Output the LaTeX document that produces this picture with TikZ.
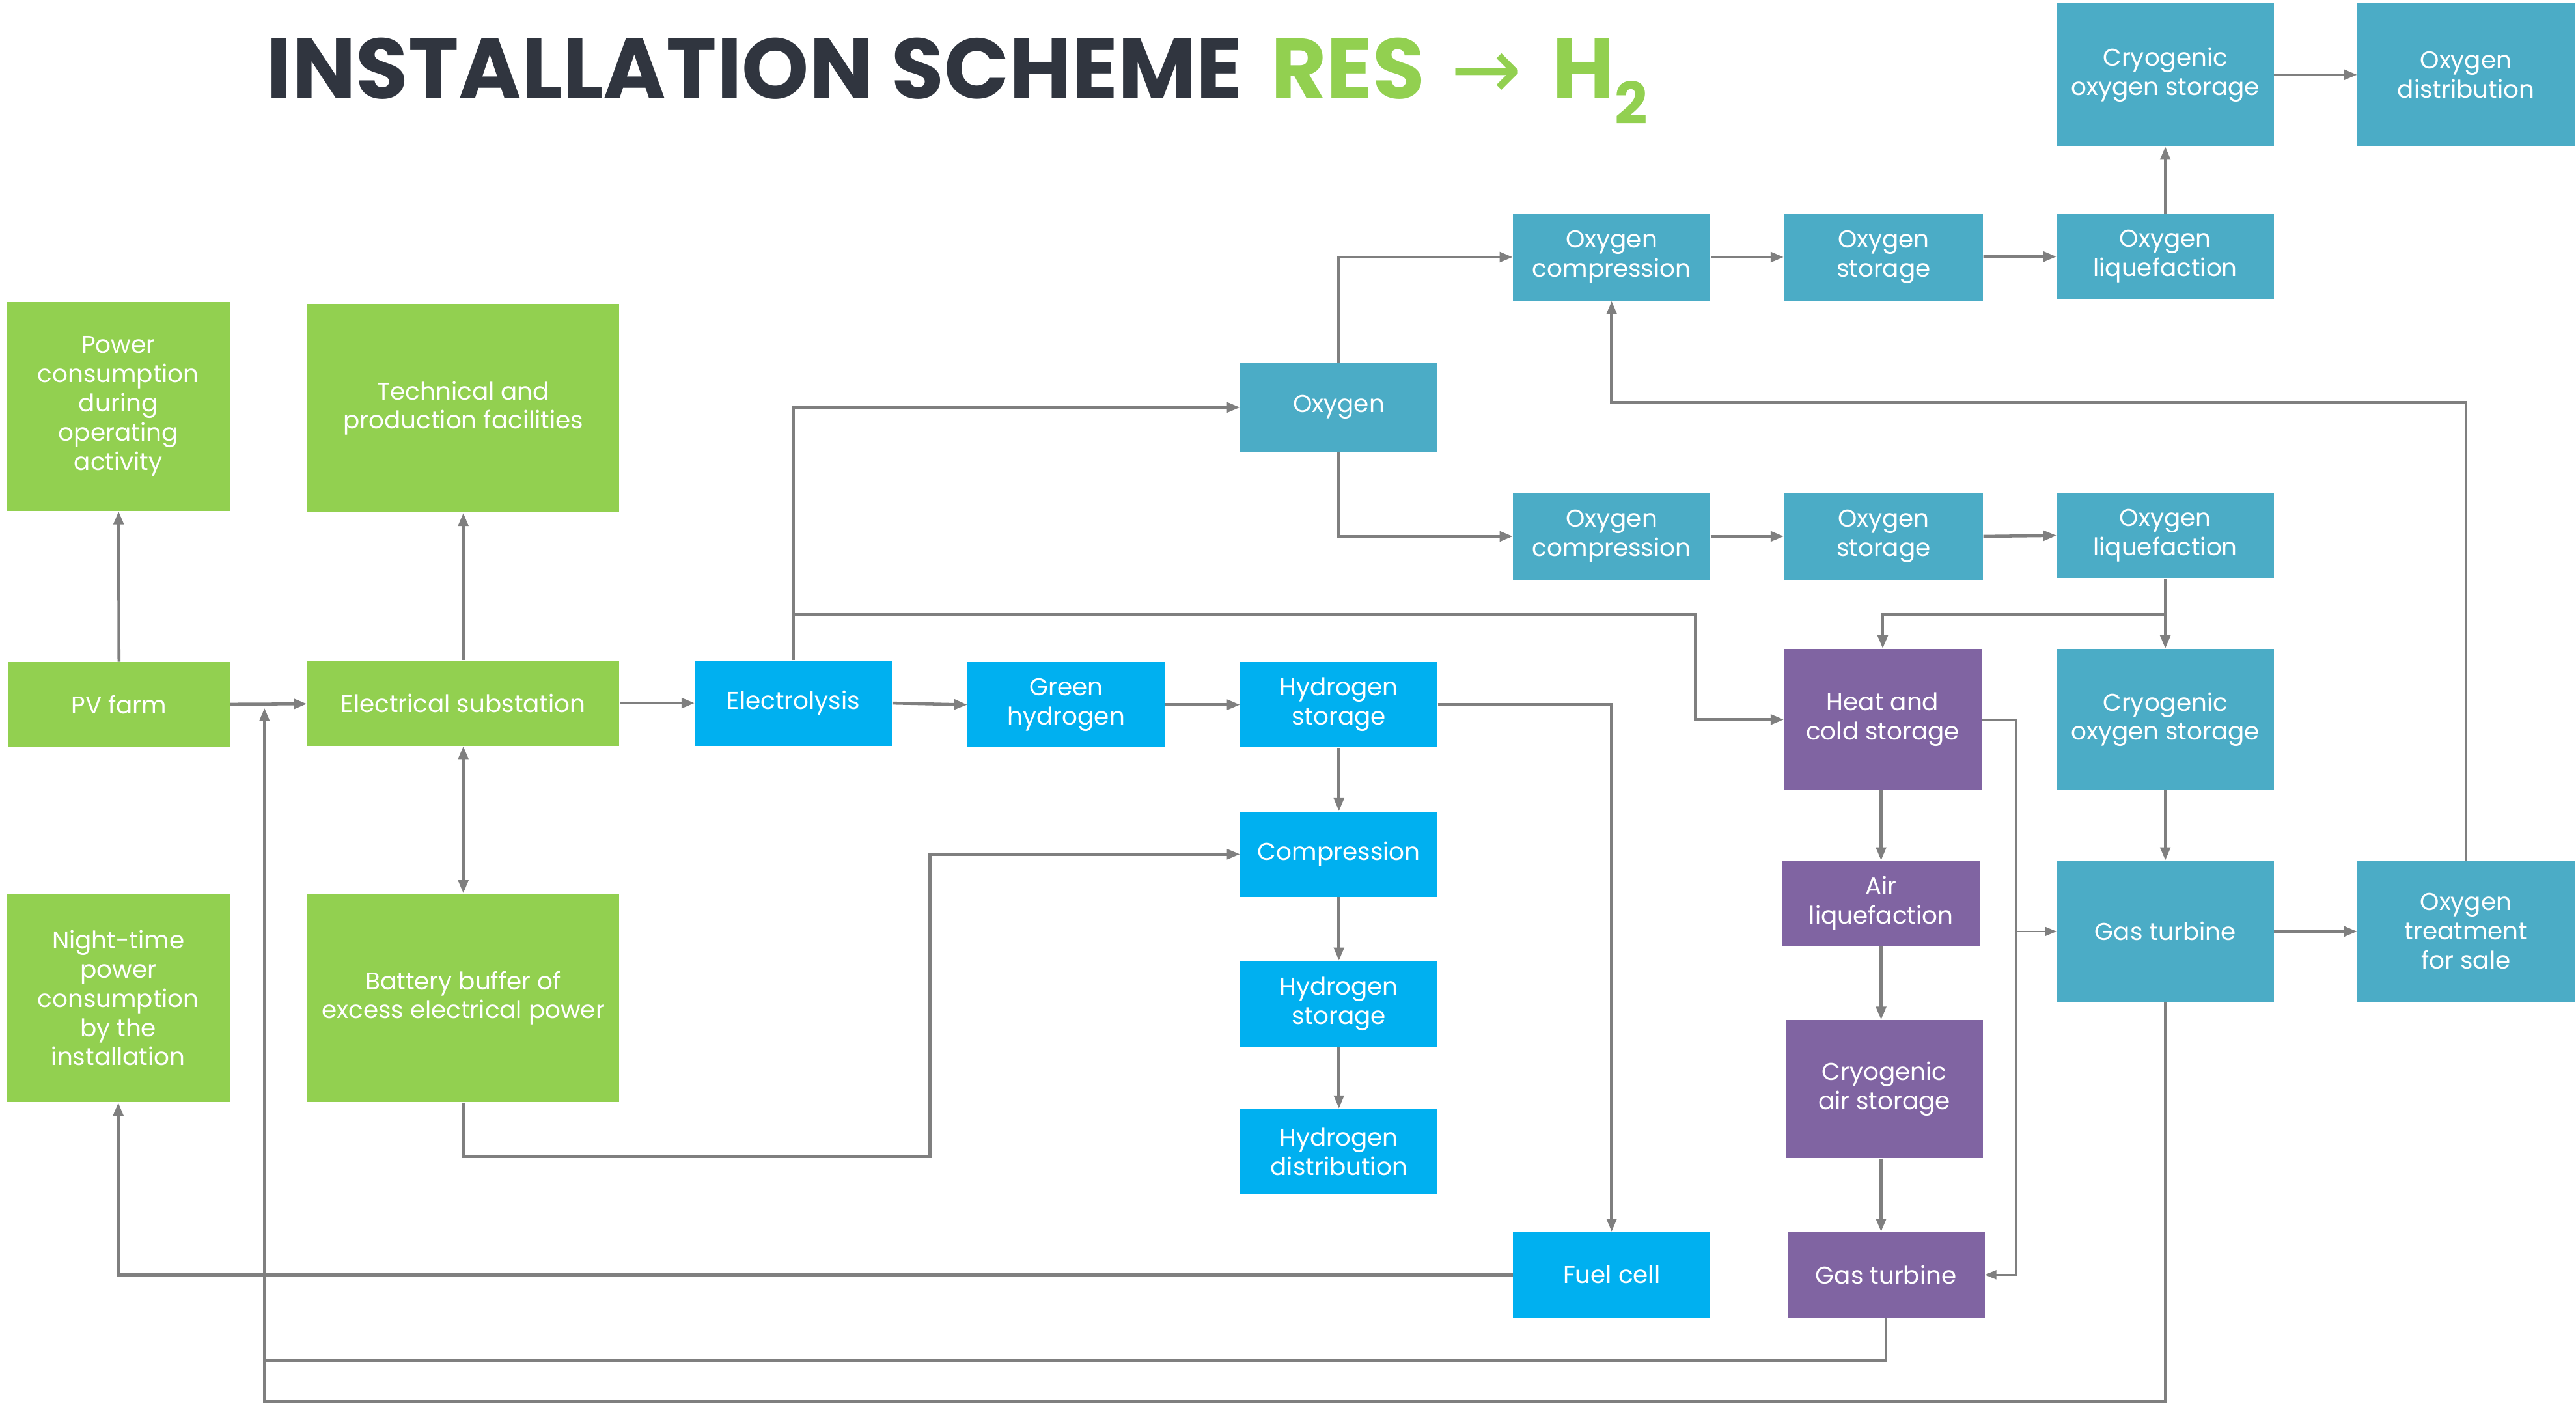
\documentclass[tikz,border=0pt]{standalone}
\usepackage{fontspec}
\setmainfont{Poppins}
\newfontfamily\arrowfont{DejaVu Sans}
\usetikzlibrary{arrows.meta}
\definecolor{cgreen}{HTML}{92D050}
\definecolor{cblue}{HTML}{00B0F0}
\definecolor{cteal}{HTML}{4BACC6}
\definecolor{cpurple}{HTML}{8064A2}
\definecolor{cline}{HTML}{7F7F7F}
\definecolor{ctitle}{HTML}{30353F}
\newcommand{\bodyfont}{\fontsize{14.8pt}{17.8pt}\selectfont}
\tikzset{
  box/.style={rectangle, inner sep=1pt, align=center, text=white, font=\bodyfont},
  gbox/.style={box, fill=cgreen},
  bbox/.style={box, fill=cblue},
  tbox/.style={box, fill=cteal},
  pbox/.style={box, fill=cpurple},
  wire/.style={draw=cline, line width=1.8pt},
  tip/.tip={Triangle[length=8pt,width=6pt]},
  conn/.style={wire, -tip},
  thinconn/.style={draw=cline, line width=1.1pt, -{Triangle[length=7pt,width=5.5pt]}},
}
\begin{document}
\begin{tikzpicture}[x=1pt,y=-1pt]
\useasboundingbox (0,0) rectangle (1568,857);
% title
\node[anchor=base west, inner sep=0pt, font=\fontsize{52pt}{60pt}\selectfont\bfseries] (title) at (162,60)
  {\textcolor{ctitle}{INSTALLATION SCHEME} \hspace{0.12em}\textcolor{cgreen}{RES\hspace{0.3em}{\arrowfont\mdseries →}\hspace{0.35em}H\raisebox{-0.3em}{\fontsize{35pt}{40pt}\selectfont 2}}};
% green
\node[gbox, minimum width=136pt, minimum height=127pt] (pc) at (72,247.5) {Power\\consumption\\during\\operating\\activity};
\node[gbox, minimum width=190pt, minimum height=127pt] (tech) at (282,248.5) {Technical and\\production facilities};
\node[gbox, minimum width=135pt, minimum height=52pt] (pv) at (72.5,429) {PV farm};
\node[gbox, minimum width=190pt, minimum height=52pt] (sub) at (282,428) {Electrical substation};
\node[gbox, minimum width=136pt, minimum height=127pt] (night) at (72,607.5) {Night-time\\power\\consumption\\by the\\installation};
\node[gbox, minimum width=190pt, minimum height=127pt] (batt) at (282,607.5) {Battery buffer of\\excess electrical power};
% bright blue
\node[bbox, minimum width=120pt, minimum height=52pt] (ely) at (483,428) {Electrolysis};
\node[bbox, minimum width=120pt, minimum height=52pt] (gh) at (649,429) {Green\\hydrogen};
\node[bbox, minimum width=120pt, minimum height=52pt] (hs1) at (815,429) {Hydrogen\\storage};
\node[bbox, minimum width=120pt, minimum height=52pt] (comp) at (815,520) {Compression};
\node[bbox, minimum width=120pt, minimum height=52pt] (hs2) at (815,611) {Hydrogen\\storage};
\node[bbox, minimum width=120pt, minimum height=52pt] (hd) at (815,701) {Hydrogen\\distribution};
\node[bbox, minimum width=120pt, minimum height=52pt] (fc) at (981,776) {Fuel cell};
% teal
\node[tbox, minimum width=120pt, minimum height=54pt] (oxy) at (815,248) {Oxygen};
\node[tbox, minimum width=120pt, minimum height=53pt] (oc1) at (981,156.5) {Oxygen\\compression};
\node[tbox, minimum width=121pt, minimum height=53pt] (os1) at (1146.5,156.5) {Oxygen\\storage};
\node[tbox, minimum width=132pt, minimum height=52pt] (ol1) at (1318,156) {Oxygen\\liquefaction};
\node[tbox, minimum width=132pt, minimum height=87pt] (cos1) at (1318,45.5) {Cryogenic\\oxygen storage};
\node[tbox, minimum width=132pt, minimum height=87pt] (od) at (1501,45.5) {Oxygen\\distribution};
\node[tbox, minimum width=120pt, minimum height=53pt] (oc2) at (981,326.5) {Oxygen\\compression};
\node[tbox, minimum width=121pt, minimum height=53pt] (os2) at (1146.5,326.5) {Oxygen\\storage};
\node[tbox, minimum width=132pt, minimum height=52pt] (ol2) at (1318,326) {Oxygen\\liquefaction};
\node[tbox, minimum width=132pt, minimum height=86pt] (cos2) at (1318,438) {Cryogenic\\oxygen storage};
\node[tbox, minimum width=132pt, minimum height=86pt] (gt1) at (1318,567) {Gas turbine};
\node[tbox, minimum width=132pt, minimum height=86pt] (ots) at (1501,567) {Oxygen\\treatment\\for sale};
% purple
\node[pbox, minimum width=120pt, minimum height=86pt] (hcs) at (1146,438) {Heat and\\cold storage};
\node[pbox, minimum width=120pt, minimum height=52pt] (al) at (1145,550) {Air\\liquefaction};
\node[pbox, minimum width=120pt, minimum height=84pt] (cas) at (1147,663) {Cryogenic\\air storage};
\node[pbox, minimum width=120pt, minimum height=52pt] (gt2) at (1148,776) {Gas turbine};
% helper coordinates
\coordinate (j1) at (483,374);
\coordinate (j2) at (1032,374);
\coordinate (j3) at (1318,374);
\coordinate (c1) at (566,704);
\coordinate (k1) at (1227,438);
\coordinate (k2) at (1227,567);
\coordinate (q1) at (1501,245);
\coordinate (q2) at (981,245);
\coordinate (r1) at (161,828);
\coordinate (r2) at (161,853);
\coordinate (r3) at (161,431);
% connectors
\draw[conn] (pv) -- (sub);
\draw[conn] (pv) -- (pc);
\draw[conn] (sub) -- (tech);
\draw[wire, tip-tip] (sub) -- (batt);
\draw[conn] (sub) -- (ely);
\draw[conn] (ely.east) -- (gh.west);
\draw[conn] (gh) -- (hs1);
\draw[conn] (hs1) -- (comp);
\draw[conn] (comp) -- (hs2);
\draw[conn] (hs2) -- (hd);
\draw[conn] (hs1.east) -| (fc.north);
\draw[conn] (batt.south) |- (c1) |- (comp.west);
\draw[conn] (fc.west) -| (night.south);
\draw[conn] (ely.north) |- (oxy.west);
\draw[conn] (j1) -- (j2) |- (hcs.west);
\draw[conn] (oxy.north) |- (oc1.west);
\draw[conn] (oxy.south) |- (oc2.west);
\draw[conn] (oc1) -- (os1);
\draw[conn] (os1) -- (ol1);
\draw[conn] (ol1) -- (cos1);
\draw[conn] (cos1) -- (od);
\draw[conn] (oc2) -- (os2);
\draw[conn] (os2.east) -- (ol2.west);
\draw[conn] (ol2) -- (cos2);
\draw[conn] (j3) -| (hcs.north);
\draw[conn] (cos2) -- (gt1);
\draw[conn] (hcs.south -| al.north) -- (al.north);
\draw[conn] (al) -- (cas.north -| al.south);
\draw[conn] (cas.south -| al.south) -- (gt2.north -| al.south);
\draw[thinconn] (hcs.east) -- (k1) |- (gt2.east);
\draw[thinconn] (k2) -- (gt1.west);
\draw[conn] (gt1) -- (ots);
\draw[conn] (ots.north) -- (q1) -- (q2) -- (oc1.south);
\draw[wire] (gt2.south) |- (r1);
\draw[conn] (gt1.south) |- (r2) -- (r3);
\end{tikzpicture}
\end{document}
